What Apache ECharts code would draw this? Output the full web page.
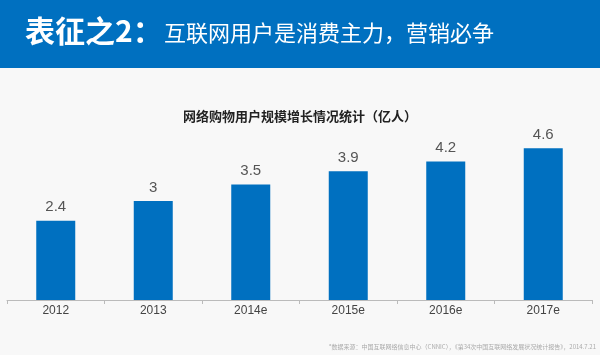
<!DOCTYPE html>
<html><head><meta charset="utf-8">
<script src="https://cdn.jsdelivr.net/npm/echarts@6/dist/echarts.min.js"></script>
<style>html,body{margin:0;padding:0;background:#f8f8f8}#c{width:600px;height:355px}</style>
</head><body><div id="c"></div>
<script>
const categories = ['2012','2013','2014e','2015e','2016e','2017e'];
const users = [2.4, 3, 3.5, 3.9, 4.2, 4.6];
const headerMain = '表征之2：';
const headerSub = '互联网用户是消费主力，营销必争';
const chartTitle = '网络购物用户规模增长情况统计（亿人）';
const footnote = '*数据来源：中国互联网络信息中心（CNNIC），《第34次中国互联网络发展状况统计报告》，2014.7.21';

const chart = echarts.init(document.getElementById('c'));
chart.setOption({
  backgroundColor: '#f8f8f8',
  animation: false,
  title: {
    text: chartTitle, left: 'center', top: 105,
    textStyle: { fontFamily: 'Noto Sans CJK SC', fontSize: 13, fontWeight: 'bold', color: '#222' }
  },
  graphic: [
    { type: 'rect', left: 0, top: 0, shape: { width: 600, height: 68 }, style: { fill: '#0070c0' } },
    { type: 'text', left: 25, top: 16, style: { text: headerMain, fill: '#fff', font: 'bold 30px "Noto Sans CJK SC"' } },
    { type: 'text', left: 164, top: 22, style: { text: headerSub, fill: '#fff', font: '22px "Noto Sans CJK SC"' } },
    { type: 'text', right: 4, top: 344, style: { text: footnote, fill: '#aaa', font: '6px "Noto Sans CJK SC"', align: 'right' } }
  ],
  grid: { left: 7, right: 8, top: 102, bottom: 55, containLabel: false },
  xAxis: {
    type: 'category', data: categories,
    axisLine: { lineStyle: { color: '#bbb' } },
    axisTick: { show: true, lineStyle: { color: '#bbb' }, length: 4 },
    axisLabel: { color: '#444', fontSize: 12, fontFamily: 'Liberation Sans', margin: 5 }
  },
  yAxis: { type: 'value', min: 0, max: 6, show: false, splitLine: { show: false } },
  series: [{
    type: 'bar', data: users, barWidth: '40%',
    itemStyle: { color: '#0070c0' },
    label: { show: true, position: 'top', distance: 6, color: '#555', fontSize: 15, fontFamily: 'Liberation Sans' }
  }]
});
</script></body></html>
